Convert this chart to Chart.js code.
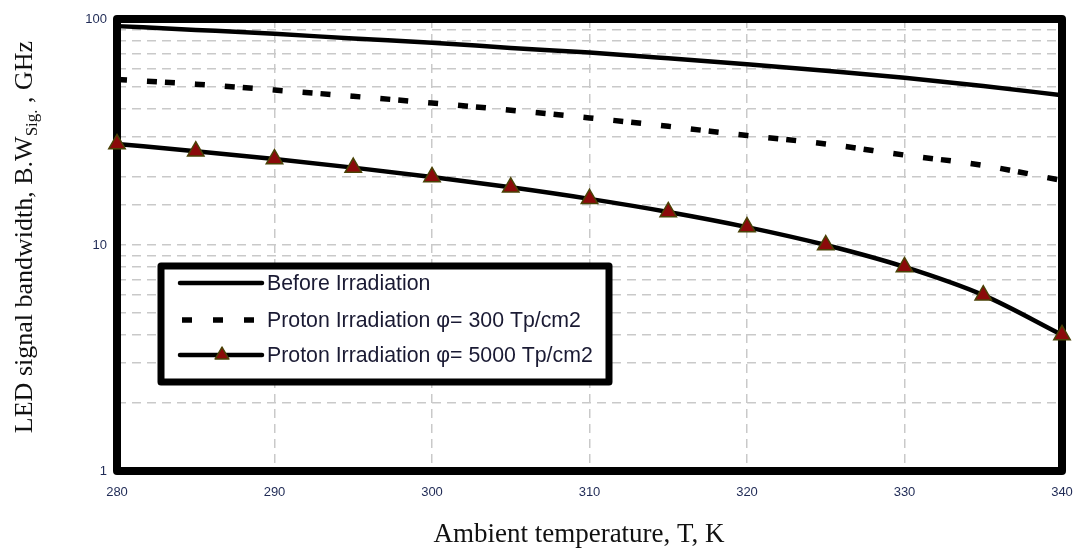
<!DOCTYPE html>
<html>
<head>
<meta charset="utf-8">
<script src="https://cdn.jsdelivr.net/npm/chart.js@4"></script>
<style>
  html, body { margin: 0; padding: 0; background: #fff; overflow: hidden; }
  #wrap { width: 1075px; height: 550px; position: relative; }
  canvas { display: block; }
</style>
</head>
<body>
<div id="wrap"><canvas id="chart"></canvas></div>
<script>
// Ambient temperature, K
const temperatures = [280, 285, 290, 295, 300, 305, 310, 315, 320, 325, 330, 335, 340];
// LED signal bandwidth, GHz
const beforeIrradiation = [93, 89.5, 86, 82, 78.5, 74.5, 71, 67, 63, 59, 55, 50.5, 46];
const proton300 = [54, 51.5, 48.5, 45.5, 42.5, 39.5, 36.5, 33.5, 30.5, 28, 25, 22.5, 19.3];
const proton5000 = [28, 26, 24, 22, 20, 18, 16, 14, 12, 10, 8, 6, 4];

const seriesLabels = [
  'Before Irradiation',
  'Proton Irradiation \u03c6= 300 Tp/cm2',
  'Proton Irradiation \u03c6= 5000 Tp/cm2'
];
const xTicks = [280, 290, 300, 310, 320, 330, 340];
const yTickLabels = [1, 10, 100];

const toPoints = (ys) => ys.map((y, i) => ({ x: temperatures[i], y }));

const tickColor = '#1f2a55';
const gridColor = '#c9c9c9';
const dashPattern = [10, 20, 10, 8, 10, 20];

// thick black frame round the plot area, drawn under the markers
const framePlugin = {
  id: 'frame',
  beforeDatasetsDraw(chart) {
    const { ctx, chartArea: a } = chart;
    ctx.save();
    ctx.strokeStyle = '#000';
    ctx.lineWidth = 8;
    ctx.lineJoin = 'round';
    ctx.strokeRect(a.left, a.top, a.right - a.left, a.bottom - a.top);
    ctx.restore();
  }
};

// axis titles (y one has a subscript) and the boxed legend inside the plot
const decorPlugin = {
  id: 'decor',
  afterDatasetsDraw(chart) {
    const ctx = chart.ctx;
    ctx.save();

    // x title
    ctx.fillStyle = '#111';
    ctx.font = '27px "Liberation Serif", "DejaVu Serif", serif';
    ctx.textAlign = 'center';
    ctx.textBaseline = 'alphabetic';
    ctx.fillText('Ambient temperature, T, K', 579, 542);

    // y title, rotated, with "Sig." as subscript
    const main1 = 'LED signal bandwidth, B.W';
    const sub = 'Sig.';
    const main2 = ' , GHz';
    const bigFont = '26px "Liberation Serif", "DejaVu Serif", serif';
    const smallFont = '17px "Liberation Serif", "DejaVu Serif", serif';
    ctx.font = bigFont;
    const w1 = ctx.measureText(main1).width;
    const w3 = ctx.measureText(main2).width;
    ctx.font = smallFont;
    const w2 = ctx.measureText(sub).width;
    const total = w1 + w2 + w3;
    ctx.translate(32, 237);
    ctx.rotate(-Math.PI / 2);
    ctx.textAlign = 'left';
    let x = -total / 2;
    ctx.font = bigFont;
    ctx.fillText(main1, x, 0);
    x += w1;
    ctx.font = smallFont;
    ctx.fillText(sub, x, 5);
    x += w2;
    ctx.font = bigFont;
    ctx.fillText(main2, x, 0);
    ctx.setTransform(1, 0, 0, 1, 0, 0);

    // legend box
    const box = { left: 161, top: 266, right: 609, bottom: 382 };
    ctx.fillStyle = '#fff';
    ctx.fillRect(box.left, box.top, box.right - box.left, box.bottom - box.top);
    ctx.strokeStyle = '#000';
    ctx.lineWidth = 7;
    ctx.lineJoin = 'round';
    ctx.strokeRect(box.left, box.top, box.right - box.left, box.bottom - box.top);

    const rows = [283, 320, 355];
    chart.data.datasets.forEach((ds, i) => {
      const y = rows[i];
      ctx.strokeStyle = ds.borderColor;
      ctx.lineWidth = ds.borderWidth;
      ctx.lineCap = ds.borderDash ? 'butt' : 'round';
      ctx.setLineDash(ds.borderDash ? [10, 21] : []);
      ctx.beginPath();
      ctx.moveTo(ds.borderDash ? 182 : 180, y);
      ctx.lineTo(262, y);
      ctx.stroke();
      ctx.setLineDash([]);
      if (ds.pointRadius > 0) {
        ctx.fillStyle = ds.pointBackgroundColor;
        ctx.strokeStyle = ds.pointBorderColor;
        ctx.lineWidth = ds.pointBorderWidth;
        Chart.helpers.drawPoint(ctx, { pointStyle: 'triangle', radius: 8, borderWidth: ds.pointBorderWidth }, 222, y);
      }
      ctx.fillStyle = '#1a1a33';
      ctx.font = '21.3px "Liberation Sans", Arial, sans-serif';
      ctx.textAlign = 'left';
      ctx.textBaseline = 'middle';
      ctx.fillText(ds.label, 267, y + 1);
    });

    ctx.restore();
  }
};

new Chart(document.getElementById('chart'), {
  type: 'line',
  data: {
    datasets: [
      {
        label: seriesLabels[0],
        data: toPoints(beforeIrradiation),
        borderColor: '#000',
        borderWidth: 4.5,
        pointRadius: 0,
        cubicInterpolationMode: 'monotone',
        clip: false
      },
      {
        label: seriesLabels[1],
        data: toPoints(proton300),
        borderColor: '#000',
        borderWidth: 5.5,
        borderDash: dashPattern,
        pointRadius: 0,
        cubicInterpolationMode: 'monotone',
        clip: false
      },
      {
        label: seriesLabels[2],
        data: toPoints(proton5000),
        borderColor: '#000',
        borderWidth: 4.5,
        pointStyle: 'triangle',
        pointRadius: 9.5,
        pointBackgroundColor: '#8b0a0a',
        pointBorderColor: '#4a4206',
        pointBorderWidth: 1.5,
        cubicInterpolationMode: 'monotone',
        clip: false
      }
    ]
  },
  options: {
    responsive: true,
    maintainAspectRatio: false,
    animation: false,
    layout: { padding: { left: 0, top: 19, right: 13, bottom: 0 } },
    plugins: {
      legend: { display: false },
      tooltip: { enabled: false }
    },
    scales: {
      x: {
        type: 'linear',
        min: xTicks[0],
        max: xTicks[xTicks.length - 1],
        afterBuildTicks: (scale) => { scale.ticks = xTicks.map(v => ({ value: v })); },
        afterFit: (scale) => {
          scale.height = 79;
          scale.paddingLeft = 0;
          scale.paddingRight = 0;
        },
        ticks: {
          color: tickColor,
          font: { family: '"Liberation Sans", Arial, sans-serif', size: 13 },
          padding: 14,
          maxRotation: 0,
          autoSkip: false
        },
        grid: { color: gridColor, lineWidth: 1.5, drawTicks: false },
        border: { display: false, dash: [9, 6] }
      },
      y: {
        type: 'logarithmic',
        min: 1,
        max: 100,
        afterFit: (scale) => {
          scale.width = 117;
          scale.paddingTop = 0;
          scale.paddingBottom = 0;
        },
        ticks: {
          color: tickColor,
          font: { family: '"Liberation Sans", Arial, sans-serif', size: 13 },
          padding: 10,
          autoSkip: false,
          callback: (v) => (yTickLabels.includes(v) ? String(v) : '')
        },
        grid: { color: gridColor, lineWidth: 1.5, drawTicks: false },
        border: { display: false, dash: [9, 6] }
      }
    }
  },
  plugins: [framePlugin, decorPlugin]
});
</script>
</body>
</html>
